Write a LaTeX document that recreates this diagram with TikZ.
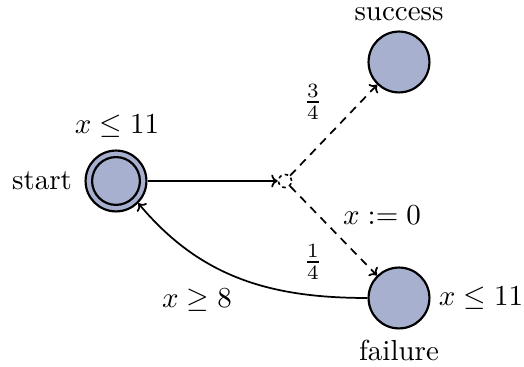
\documentclass[tikz,border=0pt]{standalone}
\usetikzlibrary{arrows.meta}
\definecolor{stfill}{RGB}{167,176,207}
\begin{document}
\begin{tikzpicture}[x=0.345pt,y=-0.345pt,
  st/.style={circle,draw,line width=0.75pt,fill=stfill,minimum size=21pt,inner sep=0pt},
  inner/.style={circle,draw,line width=0.75pt,minimum size=16.5pt,inner sep=0pt},
  branch/.style={circle,draw,line width=0.55pt,dash pattern=on 1.2pt off 1.2pt,minimum size=4.5pt,inner sep=0pt},
  edge/.style={line width=0.6pt,-{To[length=2.2pt,width=4.4pt]}},
  dedge/.style={edge,dash pattern=on 2.8pt off 2.2pt},
  lbl/.style={inner sep=0pt}]
\useasboundingbox (0,0) rectangle (524,367);
\node[st] (start) at (116,181) {};
\node[inner] (startin) at (116,181) {};
\node[st] (success) at (399,62) {};
\node[st] (failure) at (399,298) {};
\node[branch] (b) at (285,181) {};
\node[lbl] (lstart) at (42,181) {start};
\node[lbl] (inv1) at (117,126) {$x \leq 11$};
\node[lbl] (lsucc) at (399,14) {success};
\node[lbl] (lfail) at (399,350) {failure};
\node[lbl] (inv2) at (481,298) {$x \leq 11$};
\node[lbl] (p1) at (313,102) {$\frac{3}{4}$};
\node[lbl] (p2) at (313,262) {$\frac{1}{4}$};
\node[lbl] (reset) at (382,215) {$x := 0$};
\node[lbl] (guard) at (197,300) {$x \geq 8$};
\draw[edge] (start) -- (b);
\draw[dedge] (b) -- (success);
\draw[dedge] (b) -- (failure);
\draw[edge] (failure.west) to[out=180,in=-50] (start.-45);
\end{tikzpicture}
\end{document}
